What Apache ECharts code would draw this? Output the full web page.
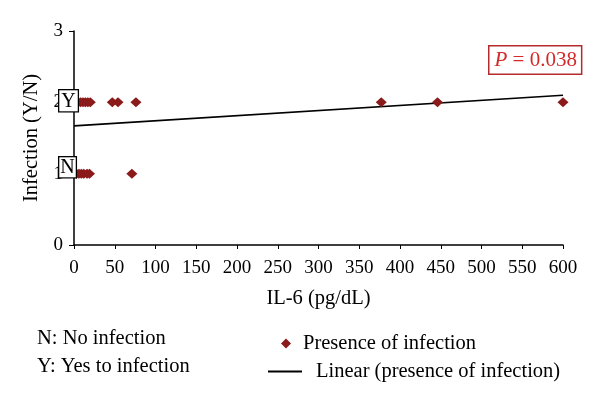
<!DOCTYPE html>
<html>
<head>
<meta charset="utf-8">
<script src="https://cdn.jsdelivr.net/npm/echarts@6/dist/echarts.min.js"></script>
<style>
  html, body { margin: 0; padding: 0; background: #fff; }
  #chart { width: 600px; height: 397px; }
</style>
</head>
<body>
<div id="chart"></div>
<script>
// IL-6 values of patients with infection (Y) and without (N)
const yesIL6 = [2, 5, 8, 11, 14, 17, 20, 47, 54, 76, 377, 446, 600];
const noIL6 = [3, 6, 9, 12, 16, 19, 71];
const yesValue = 2;
const noValue = 1;
// linear trend line end points [IL-6, value]
const trendLine = [[0, 1.67], [600, 2.1]];
const xTicks = { min: 0, max: 600, interval: 50 };
const yTicks = { min: 0, max: 3, interval: 1 };
const pText = '0.038';

const serif = '"Liberation Serif", "DejaVu Serif", serif';
const dark = '#8b1a1a';

const infectionPoints = yesIL6.map(v => [v, yesValue]).concat(noIL6.map(v => [v, noValue]));

const dom = document.getElementById('chart');
const myChart = echarts.init(dom, null, { renderer: 'canvas' });

const option = {
  animation: false,
  textStyle: { fontFamily: serif, color: '#000' },
  grid: { left: 74, right: 37, top: 31, bottom: 152 },
  xAxis: {
    type: 'value',
    min: xTicks.min,
    max: xTicks.max,
    interval: xTicks.interval,
    name: 'IL-6 (pg/dL)',
    nameLocation: 'middle',
    nameGap: 43,
    nameTextStyle: { fontFamily: serif, fontSize: 20.5, color: '#000' },
    axisLine: { lineStyle: { color: '#000', width: 1.5 } },
    axisTick: { show: true, length: 4, lineStyle: { color: '#000' } },
    axisLabel: { fontFamily: serif, fontSize: 19, color: '#000', margin: 14 },
    splitLine: { show: false }
  },
  yAxis: {
    type: 'value',
    min: yTicks.min,
    max: yTicks.max,
    interval: yTicks.interval,
    name: 'Infection (Y/N)',
    nameLocation: 'middle',
    nameGap: 28,
    nameTextStyle: { fontFamily: serif, fontSize: 20.5, color: '#000' },
    axisLine: { show: true, lineStyle: { color: '#000', width: 1.5 } },
    axisTick: { show: true, length: 5, lineStyle: { color: '#000' } },
    axisLabel: { fontFamily: serif, fontSize: 19, color: '#000', margin: 11 },
    splitLine: { show: false }
  },
  legend: [
    {
      data: [{ name: 'Presence of infection', icon: 'diamond' }],
      left: 276,
      top: 328,
      itemWidth: 10,
      itemHeight: 10,
      textStyle: { fontFamily: serif, fontSize: 20.5, color: '#000', padding: [0, 0, 0, 7] }
    },
    {
      data: [{ name: 'Linear (presence of infection)', icon: 'rect' }],
      left: 263,
      top: 356,
      itemWidth: 34,
      itemHeight: 2,
      textStyle: { fontFamily: serif, fontSize: 20.5, color: '#000', padding: [0, 0, 0, 9] }
    }
  ],
  series: [
    {
      name: 'Linear (presence of infection)',
      type: 'line',
      data: trendLine,
      symbol: 'none',
      lineStyle: { color: '#000', width: 1.6 },
      itemStyle: { color: '#000' },
      z: 1
    },
    {
      name: 'Presence of infection',
      type: 'scatter',
      data: infectionPoints,
      symbol: 'diamond',
      symbolSize: [11, 10],
      itemStyle: { color: dark, opacity: 1 },
      z: 2
    }
  ],
  graphic: [
    {
      type: 'text', left: 58, top: 89, z: 10,
      style: {
        text: 'Y', font: '20px ' + serif, fill: '#000',
        backgroundColor: '#fff', borderColor: '#000', borderWidth: 1.3,
        padding: [1, 2, 0, 2]
      }
    },
    {
      type: 'text', left: 58, top: 156, z: 10,
      style: {
        text: 'N', font: '20px ' + serif, fill: '#000',
        backgroundColor: '#fff', borderColor: '#000', borderWidth: 1.3,
        padding: [0, 1, 0, 1]
      }
    },
    {
      type: 'text', left: 488, top: 45, z: 10,
      style: {
        rich: {
          p: { fontFamily: serif, fontStyle: 'italic', fontSize: 21, fill: '#d42a2a' },
          v: { fontFamily: serif, fontSize: 21, fill: '#d42a2a' }
        },
        text: '{p|P}{v| = ' + pText + '}',
        backgroundColor: '#fff', borderColor: '#b52a2a', borderWidth: 1.5,
        padding: [3, 4, 3, 5]
      }
    },
    {
      type: 'text', left: 37, top: 328,
      style: { text: 'N: No infection', font: '20.5px ' + serif, fill: '#000' }
    },
    {
      type: 'text', left: 37, top: 356,
      style: { text: 'Y: Yes to infection', font: '20.5px ' + serif, fill: '#000' }
    }
  ]
};

if (option && typeof option === 'object') {
  myChart.setOption(option);
}

window.addEventListener('resize', function () {
  myChart.resize();
});
</script>
</body>
</html>
